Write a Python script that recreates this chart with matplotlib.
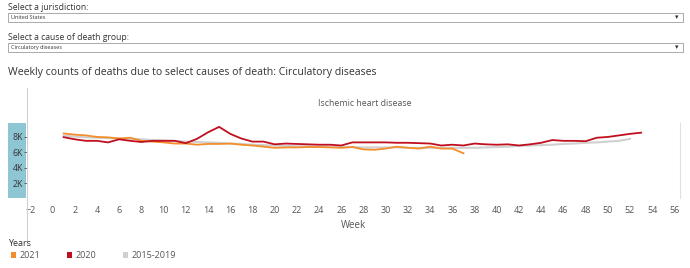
import matplotlib
matplotlib.use("Agg")
from matplotlib import pyplot as plt
from matplotlib.patches import Rectangle
from matplotlib.lines import Line2D

plt.rcParams['font.family'] = ['Open Sans', 'DejaVu Sans']

weeks_2020 = list(range(1, 54))
deaths_2020 = [7970, 7700, 7500, 7500, 7300, 7700, 7500, 7350, 7500, 7500,
               7500, 7200, 7750, 8600, 9300, 8400, 7800, 7400, 7400, 7050,
               7150, 7100, 7050, 7000, 7000, 6900, 7300, 7300, 7300, 7300,
               7250, 7250, 7200, 7150, 6900, 7000, 6900, 7150, 7050, 7000,
               7050, 6900, 7050, 7250, 7600, 7500, 7500, 7450, 7900, 8000,
               8200, 8400, 8550]

weeks_2021 = list(range(1, 38))
deaths_2021 = [8450, 8300, 8200, 8000, 7950, 7800, 7900, 7500, 7400, 7300,
               7150, 7150, 7000, 7100, 7100, 7150, 7000, 6900, 6750, 6600,
               6650, 6650, 6700, 6700, 6650, 6600, 6700, 6400, 6350, 6500,
               6750, 6600, 6500, 6750, 6500, 6500, 5900]

weeks_avg = list(range(1, 53))
deaths_avg = [8150, 8050, 7950, 7900, 7850, 7800, 7750, 7700, 7600, 7550,
              7500, 7400, 7350, 7300, 7250, 7150, 7100, 7000, 6950, 6900,
              6850, 6800, 6800, 6750, 6750, 6700, 6700, 6650, 6650, 6650,
              6650, 6600, 6600, 6600, 6600, 6600, 6600, 6600, 6650, 6700,
              6750, 6850, 6900, 6950, 7000, 7100, 7150, 7250, 7300, 7400,
              7500, 7750]

x_ticks = list(range(-2, 57, 2))
y_ticks = [2000, 4000, 6000, 8000]
y_tick_labels = ["2K", "4K", "6K", "8K"]
legend_items = [("2021", "#f28e2b"), ("2020", "#c00f1e"), ("2015-2019", "#d0d0d0")]

W, H = 690, 268
fig = plt.figure(figsize=(W / 100, H / 100), dpi=100)

def fx(px):
    return px / W

def fy(py):
    return 1 - py / H

txt = "#333333"
light = "#555555"

# selectors at the top
fig.text(fx(8), fy(7), "Select a jurisdiction:", fontsize=6.2, color=txt, va="center")
fig.text(fx(8), fy(38), "Select a cause of death group:", fontsize=6.2, color=txt, va="center")
for top, label in [(13, "United States"), (43, "Circulatory diseases")]:
    fig.patches.append(Rectangle((fx(8), fy(top + 9)), fx(675), 9 / H,
                                 transform=fig.transFigure, facecolor="white",
                                 edgecolor="#aaaaaa", linewidth=0.7, zorder=-1))
    fig.text(fx(11), fy(top + 4.5), label, fontsize=4, color=txt, va="center")
    fig.text(fx(677), fy(top + 4.5), "\u25be", fontsize=5, color=txt,
             va="center", ha="center", family=['DejaVu Sans'])

fig.text(fx(8), fy(73), "Weekly counts of deaths due to select causes of death: Circulatory diseases",
         fontsize=7.6, color=txt, va="center")

# blue axis band
fig.patches.append(Rectangle((fx(8), fy(198)), fx(18), 75 / H, transform=fig.transFigure,
                             facecolor="#8fc6d4", edgecolor="none", zorder=-1))
fig.lines.append(Line2D([fx(27), fx(27)], [fy(88), fy(244)], transform=fig.transFigure,
                        color="#d0d0d0", linewidth=0.8))
fig.lines.append(Line2D([fx(680), fx(680)], [fy(123), fy(198)], transform=fig.transFigure,
                        color="#e0e0e0", linewidth=0.8))

ax = fig.add_axes([fx(27), fy(199), fx(653), 76 / H])
ax.plot(weeks_avg, deaths_avg, color="#d0d0d0", linewidth=1.5)
ax.plot(weeks_2021, deaths_2021, color="#f28e2b", linewidth=1.3)
ax.plot(weeks_2020, deaths_2020, color="#c00f1e", linewidth=1.3)
ax.set_xlim(-2.3, 56.5)
ax.set_ylim(0, 9800)
ax.set_xticks(x_ticks)
ax.set_yticks(y_ticks)
ax.set_yticklabels(y_tick_labels)
ax.tick_params(axis="x", length=0, pad=5, labelsize=6.5, labelcolor=light)
ax.tick_params(axis="y", length=2, width=0.6, color="#555555", pad=1,
               labelsize=6.3, labelcolor="#333333")
for s in ax.spines.values():
    s.set_visible(False)
ax.patch.set_alpha(0)

fig.text(fx(365), fy(104), "Ischemic heart disease", fontsize=6.3, color=light,
         va="center", ha="center")
fig.text(fx(353), fy(225), "Week", fontsize=7, color=light, va="center", ha="center")

# legend
fig.text(fx(8), fy(243), "Years", fontsize=6.5, color=txt, va="center")
for (label, col), x0 in zip(legend_items, [11, 67, 123]):
    fig.patches.append(Rectangle((fx(x0), fy(258)), fx(5), 6 / H, transform=fig.transFigure,
                                 facecolor=col, edgecolor="none"))
    fig.text(fx(x0 + 9), fy(255), label, fontsize=6.5, color=light, va="center")

fig.savefig("out.png", dpi=100)
